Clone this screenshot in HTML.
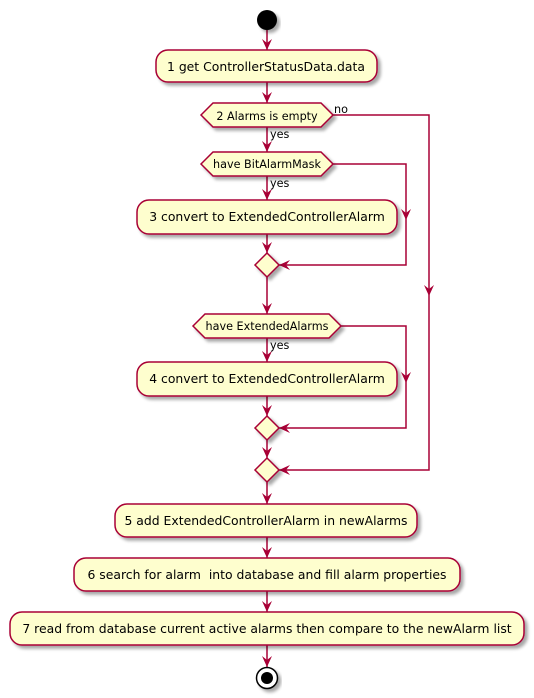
<!DOCTYPE html>
<html><head><meta charset="utf-8"><style>
html,body{margin:0;padding:0;background:#fff;width:534px;height:698px;overflow:hidden}
text{font-family:"DejaVu Sans","Liberation Sans",sans-serif;fill:#000}
</style></head><body>
<svg width="534" height="698" viewBox="0 0 534 698" xmlns="http://www.w3.org/2000/svg">
<defs>
<filter id="sh" x="-10%" y="-10%" width="130%" height="150%"><feGaussianBlur in="SourceAlpha" stdDeviation="1.5"/><feOffset dx="3" dy="3"/><feComponentTransfer><feFuncA type="linear" slope="0.35"/></feComponentTransfer><feMerge><feMergeNode/><feMergeNode in="SourceGraphic"/></feMerge></filter>
</defs>
<g stroke="#A80036" stroke-width="1.5" fill="none">
<line x1="267" y1="30" x2="267" y2="50"/>
<line x1="267" y1="82" x2="267" y2="103"/>
<line x1="267" y1="127" x2="267" y2="152"/>
<line x1="267" y1="176" x2="267" y2="200"/>
<line x1="267" y1="234" x2="267" y2="253"/>
<line x1="267" y1="277" x2="267" y2="314"/>
<line x1="267" y1="338" x2="267" y2="362"/>
<line x1="267" y1="396" x2="267" y2="416"/>
<line x1="267" y1="440" x2="267" y2="458"/>
<line x1="267" y1="482" x2="267" y2="504"/>
<line x1="267" y1="537" x2="267" y2="558"/>
<line x1="267" y1="591" x2="267" y2="612"/>
<line x1="267" y1="645" x2="267" y2="667"/>
<polyline points="333,115 429,115 429,470 279,470"/>
<polyline points="333,164 406,164 406,265 279,265"/>
<polyline points="341,326 406,326 406,428 279,428"/>
</g>
<g fill="#A80036">
<polygon points="267,50 262,39 267,43 272,39"/>
<polygon points="267,103 262,92 267,96 272,92"/>
<polygon points="267,152 262,141 267,145 272,141"/>
<polygon points="267,200 262,189 267,193 272,189"/>
<polygon points="267,253 262,242 267,246 272,242"/>
<polygon points="267,314 262,303 267,307 272,303"/>
<polygon points="267,362 262,351 267,355 272,351"/>
<polygon points="267,416 262,405 267,409 272,405"/>
<polygon points="267,458 262,447 267,451 272,447"/>
<polygon points="267,504 262,493 267,497 272,493"/>
<polygon points="267,558 262,547 267,551 272,547"/>
<polygon points="267,612 262,601 267,605 272,601"/>
<polygon points="267,667 262,656 267,660 272,656"/>
<polygon points="429,296 424,285 429,289 434,285"/>
<polygon points="406,220 401,209 406,213 411,209"/>
<polygon points="406,383 401,372 406,376 411,372"/>
<polygon points="279,265 290,260 286,265 290,270"/>
<polygon points="279,428 290,423 286,428 290,433"/>
<polygon points="279,470 290,465 286,470 290,475"/>
</g>
<circle cx="267" cy="20" r="10" fill="#000" filter="url(#sh)"/>
<g fill="#FEFECE" stroke="#A80036" stroke-width="1.5" filter="url(#sh)">
<rect x="156" y="50" width="221" height="32" rx="12"/>
<polygon points="201,115 213,103 321,103 333,115 321,127 213,127"/>
<polygon points="201,164 213,152 321,152 333,164 321,176 213,176"/>
<rect x="137" y="200" width="260" height="34" rx="12"/>
<polygon points="267,253 279,265 267,277 255,265"/>
<polygon points="193,326 205,314 329,314 341,326 329,338 205,338"/>
<rect x="137" y="362" width="260" height="34" rx="12"/>
<polygon points="267,416 279,428 267,440 255,428"/>
<polygon points="267,458 279,470 267,482 255,470"/>
<rect x="115" y="504" width="302" height="33" rx="12"/>
<rect x="74" y="558" width="386" height="33" rx="12"/>
<rect x="10" y="612" width="514" height="33" rx="12"/>
</g>
<circle cx="267" cy="678" r="10.5" fill="#fff" stroke="#000" stroke-width="1.5" filter="url(#sh)"/>
<circle cx="267" cy="678" r="6" fill="#000"/>
<g font-size="12.4" text-anchor="middle">
<text x="266" y="71">1 get ControllerStatusData.data</text>
<text x="267" y="221">3 convert to ExtendedControllerAlarm</text>
<text x="267" y="383">4 convert to ExtendedControllerAlarm</text>
<text x="266" y="525">5 add ExtendedControllerAlarm in newAlarms</text>
<text x="267" y="579" xml:space="preserve">6 search for alarm  into database and fill alarm properties</text>
<text x="267" y="633">7 read from database current active alarms then compare to the newAlarm list</text>
</g>
<g font-size="11.2" text-anchor="middle">
<text x="267" y="120">2 Alarms is empty</text>
<text x="267" y="168">have BitAlarmMask</text>
<text x="267" y="330">have ExtendedAlarms</text>
</g>
<g font-size="11.2">
<text x="334" y="113">no</text>
<text x="270" y="138">yes</text>
<text x="270" y="187">yes</text>
<text x="270" y="349">yes</text>
</g>
</svg>
</body></html>
